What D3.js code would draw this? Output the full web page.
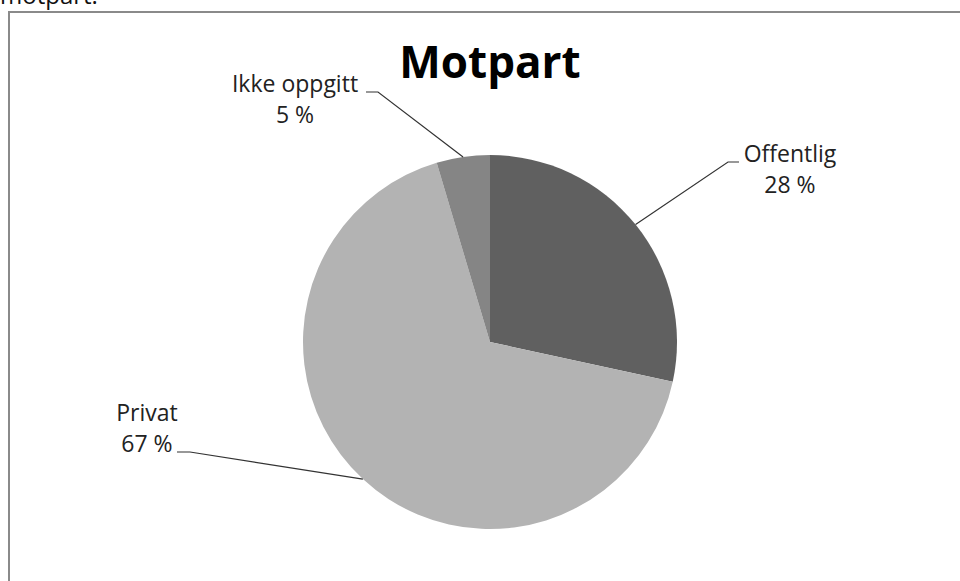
<!DOCTYPE html>
<html>
<head>
<meta charset="utf-8">
<script src="https://cdn.jsdelivr.net/npm/d3@7"></script>
<style>
  body { margin: 0; background: #fff; }
  svg { display: block; font-family: "Open Sans", sans-serif; }
</style>
</head>
<body>
<div id="chart"></div>
<script>
// Chart data
var categories = ["Offentlig", "Privat", "Ikke oppgitt"];
var shares = [28.4, 67.0, 4.6];
var sliceColors = ["#606060", "#b3b3b3", "#858585"];

var svgWidth = 960;
var svgHeight = 581;

var svg = d3.select("#chart").append("svg")
    .attr("width", svgWidth)
    .attr("height", svgHeight);

// cropped caption above the chart frame
svg.append("text")
    .attr("x", 0)
    .attr("y", 4)
    .style("font-size", "24px")
    .attr("fill", "#111")
    .text("motpart.");

// chart frame (runs off the right and bottom of the page)
svg.append("rect")
    .attr("x", 9)
    .attr("y", 12)
    .attr("width", 980)
    .attr("height", 600)
    .attr("fill", "none")
    .attr("stroke", "#8a8a8a")
    .attr("stroke-width", 2);

// title
svg.append("text")
    .attr("x", 490)
    .attr("y", 78)
    .attr("text-anchor", "middle")
    .style("font-size", "44px")
    .style("font-weight", "bold")
    .attr("fill", "#000")
    .text("Motpart");

var cx = 490, cy = 342, radius = 187;

var data = categories.map(function(c, i) {
    return { name: c, value: shares[i], color: sliceColors[i] };
});

var pie = d3.pie().sort(null).value(d => d.value);
var arc = d3.arc().innerRadius(0).outerRadius(radius);

var pieGroup = svg.append("g")
    .attr("transform", `translate(${cx}, ${cy})`);

var arcs = pie(data);

pieGroup.selectAll("path")
    .data(arcs)
    .enter()
    .append("path")
    .attr("d", arc)
    .attr("fill", d => d.data.color);

// label placement (elbow end near text, text centre, first baseline)
var labelPos = {
    "Offentlig":    { ex: 739, ex2: 728, ey: 162, tx: 790, ty: 162 },
    "Privat":       { ex: 177, ex2: 190, ey: 452, tx: 147, ty: 421 },
    "Ikke oppgitt": { ex: 366, ex2: 378, ey: 92, tx: 295, ty: 92 }
};

var total = d3.sum(shares);

arcs.forEach(function(d) {
    var p = labelPos[d.data.name];
    var mid = (d.startAngle + d.endAngle) / 2;
    var ax = cx + radius * Math.sin(mid);
    var ay = cy - radius * Math.cos(mid);

    svg.append("polyline")
        .attr("points", [[ax, ay], [p.ex2, p.ey], [p.ex, p.ey]].map(q => q.join(",")).join(" "))
        .attr("fill", "none")
        .attr("stroke", "#333")
        .attr("stroke-width", 1.2);

    var t = svg.append("text")
        .attr("text-anchor", "middle")
        .style("font-size", "23px")
        .attr("fill", "#222");
    t.append("tspan")
        .attr("x", p.tx)
        .attr("y", p.ty)
        .text(d.data.name);
    t.append("tspan")
        .attr("x", p.tx)
        .attr("y", p.ty + 31)
        .text(Math.round(d.data.value / total * 100) + " %");
});
</script>
</body>
</html>
